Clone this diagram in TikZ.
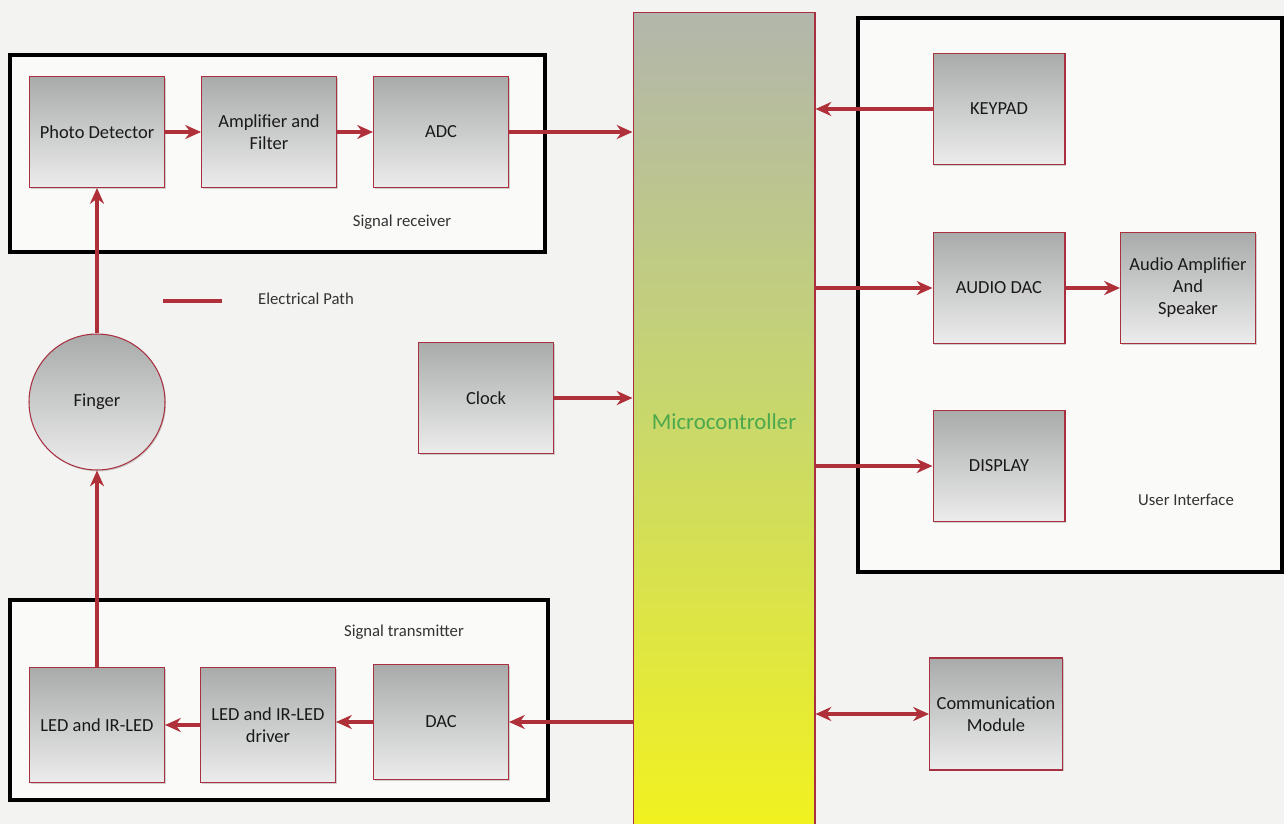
\documentclass[tikz,border=0pt]{standalone}
\usepackage{fontspec}
\setmainfont{Carlito}
\usetikzlibrary{arrows.meta,shadows}
\definecolor{bg}{HTML}{F3F3F1}
\definecolor{wire}{HTML}{B0303A}
\definecolor{edge}{HTML}{A83040}
\definecolor{boxtop}{HTML}{A9ABAB}
\definecolor{boxbot}{HTML}{ECECEC}
\definecolor{mcutop}{HTML}{B2B6AC}
\definecolor{mcumid}{HTML}{C9D86A}
\definecolor{mcubot}{HTML}{F2F21E}
\definecolor{mcutext}{HTML}{4CA84C}
\tikzset{
  blk/.style={draw=edge, line width=0.6pt, top color=boxtop, bottom color=boxbot,
    minimum width=2.7cm, minimum height=2.22cm, align=center,
    font=\fontsize{10.5}{12.5}\selectfont, text=black!90,
    drop shadow={shadow xshift=0.6pt, shadow yshift=-0.8pt, opacity=0.35}},
  grp/.style={draw=black, line width=1.8pt, fill=white!60!bg},
  wirearrow/.style={draw=wire, line width=2pt, -{Stealth[length=9pt,width=8pt]}},
  wireline/.style={draw=wire, line width=2pt},
  note/.style={font=\fontsize{9.5}{11}\selectfont, text=black!80},
}
\begin{document}
\begin{tikzpicture}[x=0.02cm,y=-0.02cm]
\fill[bg] (0,0) rectangle (1284,824);
\useasboundingbox (0,0) rectangle (1284,824);
% group frames
\draw[grp] (10,55) rectangle (545,252);
\draw[grp] (10,600) rectangle (548,800);
\draw[grp] (858,18) rectangle (1282,572);
% microcontroller
\node[draw=edge, line width=0.6pt, minimum width=3.64cm, minimum height=16.4cm,
  top color=mcutop, bottom color=mcubot, middle color=mcumid,
  font=\fontsize{13}{15}\selectfont, text=mcutext] (mcu) at (724,422) {Microcontroller};
% signal receiver
\node[blk] (pd) at (97,132) {Photo Detector};
\node[blk] (amp) at (269,132) {Amplifier and\\Filter};
\node[blk] (adc) at (441,132) {ADC};
\node[note] (srl) at (402,222) {Signal receiver};
% legend
\coordinate (lg1) at (163,301);
\coordinate (lg2) at (222,301);
\node[note, anchor=west] (lgt) at (252,299) {Electrical Path};
% finger
\node[draw=edge, line width=0.6pt, circle, minimum size=2.72cm, top color=boxtop, bottom color=boxbot,
  font=\fontsize{10.5}{12.5}\selectfont, text=black!90,
  drop shadow={shadow xshift=0.6pt, shadow yshift=-0.8pt, opacity=0.35}] (fng) at (97,402) {Finger};
% clock
\node[blk] (clk) at (486,398) {Clock};
% signal transmitter
\node[blk, minimum height=2.3cm] (led) at (97,725) {LED and IR-LED};
\node[blk, minimum height=2.3cm] (drv) at (268,725) {LED and IR-LED\\driver};
\node[blk, minimum height=2.3cm] (dac) at (441,722) {DAC};
\node[note] (stl) at (404,632) {Signal transmitter};
% user interface
\node[blk, minimum width=2.64cm] (key) at (999,109) {KEYPAD};
\node[blk, minimum width=2.64cm] (adac) at (999,288) {AUDIO DAC};
\node[blk] (aamp) at (1188,288) {Audio Amplifier\\And\\Speaker};
\node[blk, minimum width=2.64cm] (disp) at (999,466) {DISPLAY};
\node[note] (uil) at (1186,500) {User Interface};
% communication
\node[blk, minimum width=2.66cm, minimum height=2.24cm] (com) at (996,714) {Communication\\Module};
% connectors
\draw[wirearrow] (pd) -- (amp);
\draw[wirearrow] (amp) -- (adc);
\draw[wirearrow] (adc.east) -- (adc.east -| mcu.west);
\draw[wirearrow] (clk.east) -- (clk.east -| mcu.west);
\draw[wirearrow] (mcu.west |- dac.east) -- (dac.east);
\draw[wirearrow] (dac.west) -- (dac.west -| drv.east);
\draw[wirearrow] (drv) -- (led);
\draw[wirearrow] (led.north) -- (fng.south);
\draw[wirearrow] (fng.north) -- (pd.south);
\draw[wirearrow] (key.west) -- (key.west -| mcu.east);
\draw[wirearrow] (mcu.east |- adac.west) -- (adac.west);
\draw[wirearrow] (adac) -- (aamp);
\draw[wirearrow] (mcu.east |- disp.west) -- (disp.west);
\draw[wirearrow, {Stealth[length=9pt,width=8pt]}-{Stealth[length=9pt,width=8pt]}] (mcu.east |- com.west) -- (com.west);
\draw[wireline] (lg1) -- (lg2);
\end{tikzpicture}
\end{document}
